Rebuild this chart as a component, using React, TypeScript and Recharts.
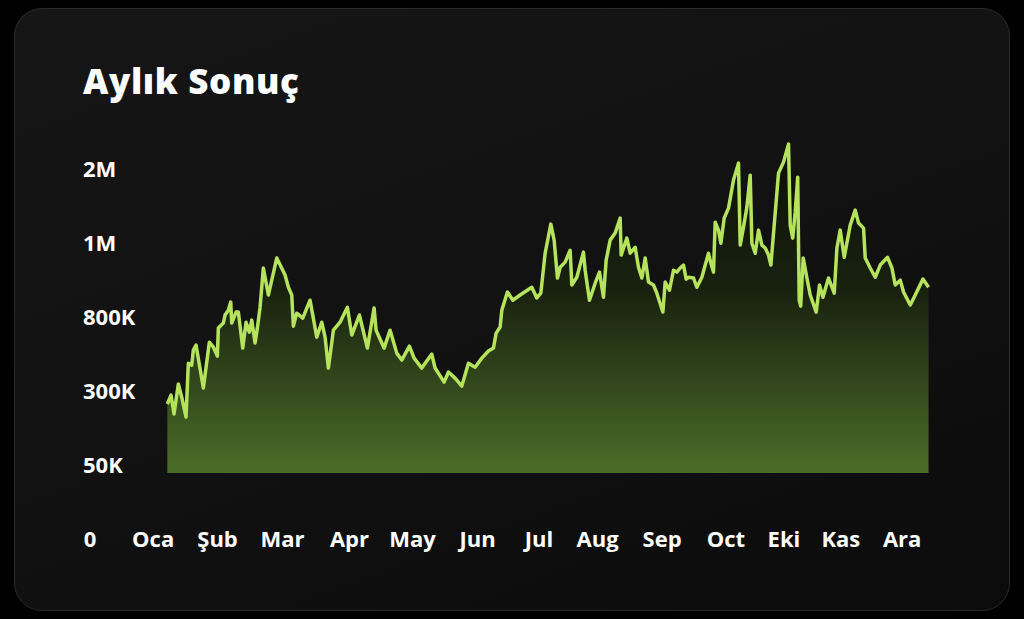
import { AreaChart, Area, XAxis, YAxis } from "recharts";

// x position in month units (0 = "0" tick), value in thousands
const monthPos = [
  1.237, 1.296, 1.344, 1.413, 1.467, 1.536, 1.573, 1.627, 1.653, 1.696, 1.813, 1.909, 1.973, 2.037,
  2.053, 2.133, 2.16, 2.213, 2.251, 2.267, 2.336, 2.373, 2.443, 2.496, 2.549, 2.587, 2.64, 2.677,
  2.72, 2.773, 2.853, 2.987, 3.12, 3.173, 3.227, 3.253, 3.307, 3.403, 3.52, 3.627, 3.707, 3.76,
  3.813, 3.893, 4.0, 4.117, 4.187, 4.309, 4.437, 4.544, 4.576, 4.704, 4.8, 4.907, 4.987, 5.109,
  5.184, 5.307, 5.36, 5.467, 5.52, 5.664, 5.733, 5.84, 5.947, 6.053, 6.16, 6.267, 6.373, 6.453,
  6.496, 6.56, 6.587, 6.677, 6.763, 6.88, 7.067, 7.147, 7.211, 7.28, 7.371, 7.424, 7.477, 7.52,
  7.6, 7.68, 7.707, 7.787, 7.893, 7.92, 7.989, 8.08, 8.149, 8.213, 8.256, 8.32, 8.4, 8.48, 8.496,
  8.587, 8.64, 8.72, 8.773, 8.827, 8.88, 8.933, 9.013, 9.067, 9.163, 9.2, 9.269, 9.333, 9.387,
  9.44, 9.493, 9.536, 9.573, 9.653, 9.707, 9.787, 9.893, 9.931, 9.973, 10.0, 10.053, 10.091,
  10.144, 10.213, 10.293, 10.373, 10.4, 10.453, 10.507, 10.56, 10.587, 10.64, 10.693, 10.747,
  10.8, 10.853, 10.891, 10.944, 11.013, 11.093, 11.173, 11.2, 11.24, 11.28, 11.32, 11.344,
  11.368, 11.408, 11.467, 11.52, 11.616, 11.669, 11.723, 11.813, 11.904, 11.947, 12.0, 12.064,
  12.16, 12.24, 12.293, 12.373, 12.4, 12.48, 12.56, 12.64, 12.757, 12.827, 12.88, 12.96, 13.013,
  13.12, 13.2, 13.323, 13.413,
];

const sonuc = [
  253, 283, 219, 341, 276, 209, 482, 469, 570, 604, 314, 624, 591, 530,
  719, 753, 803, 816, 838, 753, 811, 811, 584, 759, 692, 773, 618, 719,
  824, 930, 857, 957, 911, 878, 857, 732, 808, 786, 843, 658, 759, 658,
  449, 705, 759, 824, 672, 803, 584, 822, 705, 584, 705, 550, 503, 597,
  516, 449, 482, 543, 449, 354, 422, 381, 327, 482, 455, 516, 564, 584,
  685, 726, 816, 865, 843, 857, 878, 849, 862, 970, 1243, 1027, 903, 932,
  946, 978, 884, 905, 973, 924, 843, 889, 919, 851, 951, 1027, 1122, 1324, 965,
  1054, 970, 986, 932, 903, 957, 892, 884, 862, 811, 892, 870, 924, 919,
  930, 938, 900, 905, 903, 878, 905, 970, 943, 919, 1270, 1162, 997,
  1324, 1459, 1838, 2067, 992, 1203, 1473, 1905, 997, 970, 1162, 992,
  984, 965, 938, 1230, 1932, 2081, 2324, 1230, 1054, 1405, 1878, 843,
  827, 957, 903, 857, 811, 884, 851, 903, 862, 984, 1162, 959,
  1230, 1432, 1257, 1189, 957, 930, 905, 938, 959, 930, 884, 897, 865,
  830, 857, 900, 878,
];

const yTickValues = [50, 300, 800, 1000, 2000];
const yTickLabels = ["50K", "300K", "800K", "1M", "2M"];

const xTickPos = [0, 1.01, 2.04, 3.08, 4.15, 5.16, 6.2, 7.18, 8.12, 9.15, 10.17, 11.1, 12.01, 12.99];
const xTickLabels = ["0", "Oca", "Şub", "Mar", "Apr", "May", "Jun", "Jul", "Aug", "Sep", "Oct", "Eki", "Kas", "Ara"];

// the value axis is drawn with evenly spaced labels, so map thousands onto that ladder
function toLevel(k: number) {
  const t = yTickValues;
  if (k <= t[1]) return (k - t[0]) / (t[1] - t[0]);
  for (let i = 1; i < t.length - 1; i++) {
    if (k <= t[i + 1]) return i + (k - t[i]) / (t[i + 1] - t[i]);
  }
  const n = t.length - 1;
  return n - 1 + (k - t[n - 1]) / (t[n] - t[n - 1]);
}

const data = monthPos.map((m, i) => ({ m, v: toLevel(sonuc[i]) }));

const Y_MIN = -0.12;
const Y_MAX = Y_MIN + 333 / 74;

const font = "'Open Sans', 'Noto Sans', sans-serif";

function YTick(props: any) {
  const { y, index } = props;
  return (
    <text x={83} y={y} fill="#ffffff" fontFamily={font} fontWeight={700} fontSize={22} dominantBaseline="central">
      {yTickLabels[index]}
    </text>
  );
}

function XTick(props: any) {
  const { x, index } = props;
  return (
    <text x={x} y={538} fill="#ffffff" fontFamily={font} fontWeight={700} fontSize={22} textAnchor="middle" dominantBaseline="central">
      {xTickLabels[index]}
    </text>
  );
}

export default function App() {
  return (
    <div style={{ position: "absolute", left: 0, top: 0, width: 1024, height: 619, background: "#000", overflow: "hidden" }}>
      <div
        style={{
          position: "absolute",
          left: 14,
          top: 8,
          width: 994,
          height: 601,
          borderRadius: 28,
          border: "1px solid #2b2b2b",
          background: "linear-gradient(160deg, #161616 0%, #111111 55%, #0b0b0b 100%)",
        }}
      />
      <div
        style={{
          position: "absolute",
          left: 83,
          top: 63,
          color: "#fff",
          fontFamily: font,
          fontWeight: 800,
          fontSize: 35,
          letterSpacing: 0.6,
          lineHeight: 1,
        }}
      >
        Aylık Sonuç
      </div>
      <div style={{ position: "absolute", left: 0, top: 0 }}>
        <AreaChart width={1024} height={619} data={data} margin={{ top: 140, right: 90, bottom: 66, left: 0 }}>
          <defs>
            <linearGradient id="fillGreen" x1="0" y1="0" x2="0" y2="1">
              <stop offset="0%" stopColor="#0c0f08" />
              <stop offset="45%" stopColor="#19220f" />
              <stop offset="100%" stopColor="#4c6d29" />
            </linearGradient>
          </defs>
          <XAxis
            dataKey="m"
            type="number"
            domain={[0, 13.5]}
            ticks={xTickPos}
            interval={0}
            height={80}
            axisLine={false}
            tickLine={false}
            tick={<XTick />}
          />
          <YAxis
            type="number"
            domain={[Y_MIN, Y_MAX]}
            allowDataOverflow
            ticks={yTickValues.map((_, i) => i)}
            interval={0}
            width={90}
            axisLine={false}
            tickLine={false}
            tick={<YTick />}
          />
          <Area
            type="linear"
            dataKey="v"
            baseValue={Y_MIN}
            stroke="#b6e35c"
            strokeWidth={3.5}
            strokeLinejoin="round"
            fill="url(#fillGreen)"
            fillOpacity={1}
            dot={false}
            activeDot={false}
            isAnimationActive={false}
          />
        </AreaChart>
      </div>
    </div>
  );
}
